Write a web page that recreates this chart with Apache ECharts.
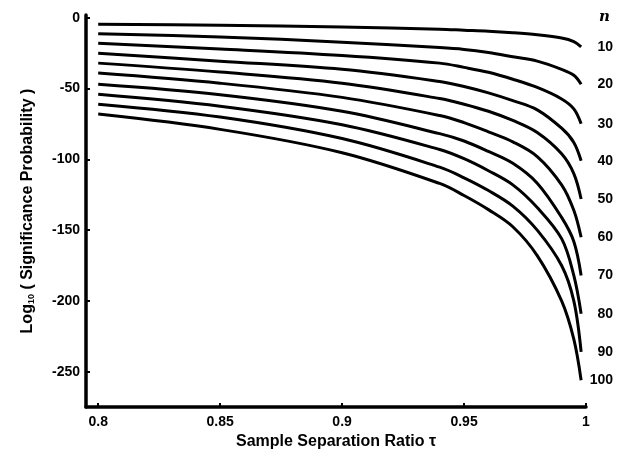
<!DOCTYPE html>
<html>
<head>
<meta charset="utf-8">
<script src="https://cdn.jsdelivr.net/npm/echarts@6/dist/echarts.min.js"></script>
<style>
  html, body { margin: 0; padding: 0; background: #fff; }
  #main { width: 626px; height: 455px; }
</style>
</head>
<body>
<div id="main"></div>
<script>
// sample separation ratio values where the curves were read
var tau = [0.8, 0.85, 0.9, 0.94, 0.95, 0.96, 0.97, 0.98, 0.99, 0.995, 0.998];

// log10 significance probability, one list per n
var n10  = [-4.5, -5.3, -6.5, -8, -8.7, -9.4, -10.5, -12, -14.3, -16.8, -20.5];
var n20  = [-11.2, -13.5, -17.2, -21, -22.3, -24.5, -27.5, -30.6, -36.4, -40.6, -46.9];
var n30  = [-18, -22, -26.6, -32, -35, -38.5, -43.4, -49.2, -57.3, -64.3, -74.8];
var n40  = [-25, -30.6, -36.4, -45, -48.5, -53, -58.5, -65, -78, -88, -101];
var n50  = [-32, -38.3, -46.2, -57, -61, -66, -72.5, -81, -96, -110, -128];
var n60  = [-39, -46.2, -56.2, -69, -74, -80.5, -87.6, -98, -118, -136, -155];
var n70  = [-47, -54.3, -66, -81.8, -87, -94.4, -102.8, -116.8, -141, -158, -182];
var n80  = [-54, -62.4, -75.5, -93, -99.5, -108, -118, -134, -156, -182, -209];
var n90  = [-61, -70.1, -85.3, -105.5, -113, -122, -133, -150, -175, -200, -236];
var n100 = [-68, -78.8, -95.3, -117, -125.5, -135.5, -147.6, -168, -200, -227, -256];

var nNames = ['10', '20', '30', '40', '50', '60', '70', '80', '90', '100'];
var curves = [n10, n20, n30, n40, n50, n60, n70, n80, n90, n100];

var xTicks = [0.8, 0.85, 0.9, 0.95, 1];
var yTicks = [0, -50, -100, -150, -200, -250];

var font = 'Liberation Sans';

var series = curves.map(function (vals, i) {
  return {
    name: nNames[i],
    type: 'line',
    data: vals.map(function (v, j) { return [tau[j], v]; }),
    showSymbol: false,
    smooth: 0.35,
    lineStyle: { color: '#000', width: 3 },
    endLabel: {
      show: true,
      formatter: '{a}',
      color: '#000',
      fontFamily: font,
      fontWeight: 'bold',
      fontSize: 14,
      align: 'right',
      offset: [24, 0]
    }
  };
});

var chart = echarts.init(document.getElementById('main'));
chart.setOption({
  animation: false,
  backgroundColor: '#fff',
  title: {
    text: 'n',
    left: 594,
    top: 5,
    textStyle: {
      fontFamily: 'DejaVu Serif',
      fontStyle: 'italic',
      fontWeight: 'bold',
      fontSize: 15,
      color: '#000'
    }
  },
  grid: { left: 86, right: 40, top: 15, bottom: 45 },
  xAxis: {
    type: 'value',
    min: 0.795,
    max: 1.0,
    name: 'Sample Separation Ratio τ',
    nameLocation: 'middle',
    nameGap: 26,
    nameTextStyle: { fontFamily: font, fontWeight: 'bold', fontSize: 16, color: '#000' },
    axisLine: { onZero: false, lineStyle: { color: '#000', width: 3.5 } },
    axisTick: { customValues: xTicks, inside: true, length: 4, lineStyle: { color: '#000', width: 2 } },
    axisLabel: {
      customValues: xTicks,
      formatter: function (v) { return String(v); },
      margin: 8,
      fontFamily: font, fontWeight: 'bold', fontSize: 14, color: '#000'
    },
    splitLine: { show: false }
  },
  yAxis: {
    type: 'value',
    min: -275,
    max: 2,
    name: 'Log{sub|10} ( Significance Probability )',
    nameLocation: 'middle',
    nameGap: 50,
    nameTextStyle: {
      fontFamily: font, fontWeight: 'bold', fontSize: 16, color: '#000',
      rich: {
        sub: { fontFamily: font, fontWeight: 'bold', fontSize: 9, color: '#000', verticalAlign: 'bottom' }
      }
    },
    axisLine: { show: true, onZero: false, lineStyle: { color: '#000', width: 3.5 } },
    axisTick: { show: true, customValues: yTicks, inside: true, length: 4, lineStyle: { color: '#000', width: 2 } },
    axisLabel: {
      customValues: yTicks,
      margin: 6,
      fontFamily: font, fontWeight: 'bold', fontSize: 14, color: '#000'
    },
    splitLine: { show: false }
  },
  series: series
});
</script>
</body>
</html>
